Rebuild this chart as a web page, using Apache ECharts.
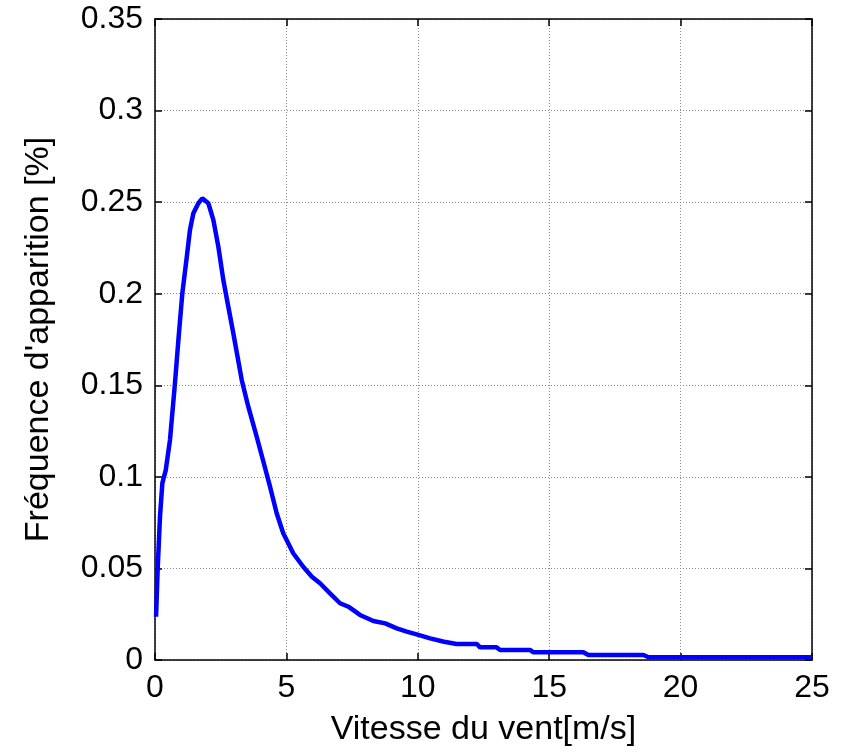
<!DOCTYPE html>
<html>
<head>
<meta charset="utf-8">
<script src="https://cdn.jsdelivr.net/npm/echarts@6/dist/echarts.min.js"></script>
<style>
  html, body { margin: 0; padding: 0; background: #fff; }
  #chart { width: 844px; height: 754px; }
</style>
</head>
<body>
<div id="chart"></div>
<script>
// Wind speed distribution: occurrence frequency versus wind speed
const windSpeed = [
  0.04, 0.10, 0.19, 0.28, 0.41, 0.57, 0.76, 0.89, 1.04, 1.21,
  1.33, 1.46, 1.65, 1.80, 2.03, 2.22, 2.41, 2.60, 2.79, 2.98,
  3.30, 3.55, 3.87, 4.12, 4.38, 4.63, 4.88, 5.26, 5.64, 5.97,
  6.28, 6.66, 7.04, 7.36, 7.80, 8.31, 8.76, 9.20, 9.58, 10.02,
  10.47, 11.00, 11.48, 12.25, 12.37, 13.00, 13.13, 14.27, 14.40, 16.30,
  16.49, 18.59, 18.78, 25.00
];
const frequency = [
  0.0236, 0.0491, 0.0782, 0.0966, 0.1037, 0.1201, 0.1512, 0.1747, 0.2002, 0.2202,
  0.2348, 0.2439, 0.2494, 0.2521, 0.2494, 0.2403, 0.2257, 0.2075, 0.1929, 0.1784,
  0.1529, 0.1383, 0.1219, 0.1085, 0.0945, 0.0801, 0.0692, 0.0583, 0.0509, 0.0455,
  0.0419, 0.0364, 0.0310, 0.0291, 0.0246, 0.0213, 0.0200, 0.0173, 0.0155, 0.0137,
  0.0118, 0.0100, 0.0087, 0.0087, 0.0069, 0.0069, 0.0055, 0.0055, 0.0042, 0.0042,
  0.0027, 0.0027, 0.0015, 0.0015
];
const xTicks = { min: 0, max: 25, step: 5 };
const yTicks = { min: 0, max: 0.35, step: 0.05 };
const xTitle = 'Vitesse du vent[m/s]';
const yTitle = "Fréquence d'apparition [%]";

const font = 'Liberation Sans, Arial, sans-serif';
const points = windSpeed.map((v, i) => [v, frequency[i]]);

const frameLine = { show: true, onZero: false, lineStyle: { color: '#000', width: 1.5 } };
const innerTick = { show: true, inside: true, length: 7, lineStyle: { color: '#000', width: 1.5 } };
const gridLine = { show: true, lineStyle: { color: '#8a8a8a', width: 1, type: [1, 2] } };

const chart = echarts.init(document.getElementById('chart'), null, { renderer: 'canvas' });
chart.setOption({
  animation: false,
  backgroundColor: '#fff',
  grid: { left: 155, right: 32, top: 19, bottom: 94, containLabel: false },
  xAxis: [
    {
      type: 'value', position: 'bottom',
      min: xTicks.min, max: xTicks.max, interval: xTicks.step,
      axisLine: frameLine, axisTick: innerTick, splitLine: gridLine,
      axisLabel: { color: '#000', fontSize: 32, fontFamily: font, margin: 12 },
      name: xTitle, nameLocation: 'middle', nameGap: 53,
      nameTextStyle: { color: '#000', fontSize: 34, fontFamily: font }
    },
    {
      type: 'value', position: 'top',
      min: xTicks.min, max: xTicks.max, interval: xTicks.step,
      axisLine: frameLine, axisTick: innerTick,
      splitLine: { show: false }, axisLabel: { show: false }
    }
  ],
  yAxis: [
    {
      type: 'value', position: 'left',
      min: yTicks.min, max: yTicks.max, interval: yTicks.step,
      axisLine: frameLine, axisTick: innerTick, splitLine: gridLine,
      axisLabel: { color: '#000', fontSize: 32, fontFamily: font, margin: 12,
        formatter: v => String(+v.toFixed(2)) },
      name: yTitle, nameLocation: 'middle', nameGap: 99, nameRotate: 90,
      nameTextStyle: { color: '#000', fontSize: 34, fontFamily: font }
    },
    {
      type: 'value', position: 'right',
      min: yTicks.min, max: yTicks.max, interval: yTicks.step,
      axisLine: frameLine, axisTick: innerTick,
      splitLine: { show: false }, axisLabel: { show: false }
    }
  ],
  series: [
    {
      type: 'line',
      xAxisIndex: 0, yAxisIndex: 0,
      data: points,
      showSymbol: false,
      smooth: false,
      lineStyle: { color: '#0000ff', width: 4.5 },
      z: 5
    }
  ]
});
</script>
</body>
</html>
